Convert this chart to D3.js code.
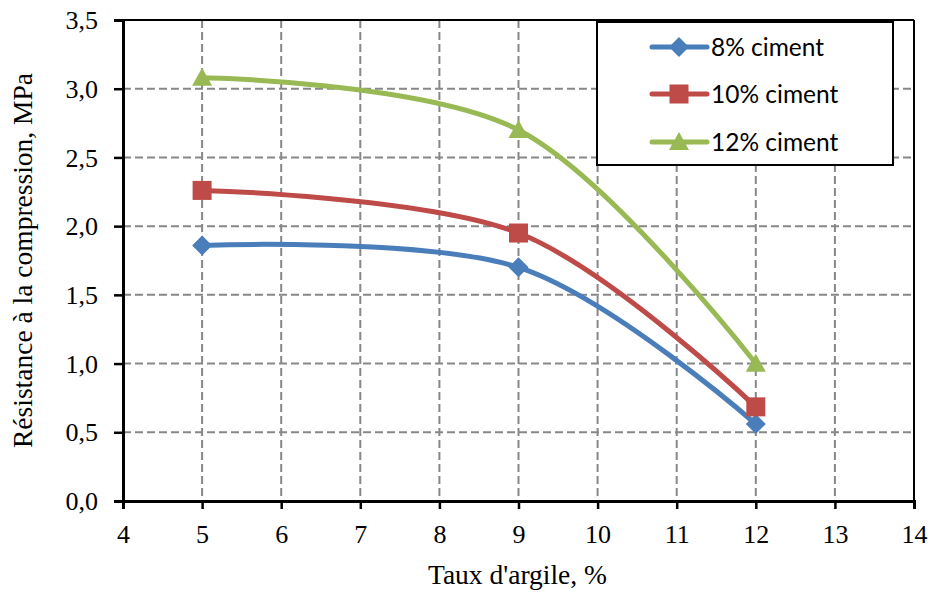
<!DOCTYPE html>
<html><head><meta charset="utf-8">
<script src="https://cdn.jsdelivr.net/npm/d3@7"></script>
<style>body{margin:0;background:#fff}</style>
</head><body>
<svg id="chart" width="936" height="592"></svg>
<script>
const xValues = [5, 9, 12];
const series8 = [1.86, 1.70, 0.56];
const series10 = [2.26, 1.95, 0.685];
const series12 = [3.08, 2.70, 1.00];
const seriesNames = ["8% ciment", "10% ciment", "12% ciment"];
const seriesColors = ["#4A7EBB", "#BE4B48", "#98B954"];
const seriesMarkers = ["diamond", "square", "triangle"];
const xTicks = [4,5,6,7,8,9,10,11,12,13,14];
const yTicks = [0,0.5,1,1.5,2,2.5,3,3.5];
const xTitle = "Taux d'argile, %";
const yTitle = "Résistance à la compression, MPa";

const svg = d3.select("#chart");
const L = 123, R = 914, T = 20, B = 501;
const x = d3.scaleLinear().domain([4,14]).range([L,R]);
const y = d3.scaleLinear().domain([0,3.5]).range([B,T]);
const serif = "'Liberation Serif', serif";
const sans = "Lato, 'Noto Sans', sans-serif";
const fmt = d => d3.format(".1f")(d).replace(".", ",");

// grid
const grid = svg.append("g").attr("stroke","#878787").attr("stroke-width",2).attr("stroke-dasharray","8,4");
xTicks.filter(t => t>4 && t<14).forEach(t => grid.append("line").attr("x1",x(t)).attr("x2",x(t)).attr("y1",T).attr("y2",B));
yTicks.filter(t => t>0 && t<3.5).forEach(t => grid.append("line").attr("x1",L).attr("x2",R).attr("y1",y(t)).attr("y2",y(t)));

// border top/right
svg.append("line").attr("x1",L).attr("x2",R).attr("y1",T).attr("y2",T).attr("stroke","#000").attr("stroke-width",2);
svg.append("line").attr("x1",R).attr("x2",R).attr("y1",T).attr("y2",B).attr("stroke","#000").attr("stroke-width",2);

// axes
const xAxis = svg.append("g").attr("transform",`translate(0,${B})`)
  .call(d3.axisBottom(x).tickValues(xTicks).tickSize(8).tickPadding(18).tickFormat(d3.format("d")));
const yAxis = svg.append("g").attr("transform",`translate(${L},0)`)
  .call(d3.axisLeft(y).tickValues(yTicks).tickSize(9).tickPadding(16).tickFormat(fmt));
[xAxis, yAxis].forEach(a => {
  a.select(".domain").attr("stroke","#000").attr("stroke-width",3);
  a.selectAll(".tick line").attr("stroke","#000").attr("stroke-width",2.5);
  a.selectAll("text").attr("fill","#000").style("font-family",serif).style("font-size","26px");
});
xAxis.selectAll("text").attr("y",42).attr("dy","0");
yAxis.selectAll("text").attr("dy","0.33em");

// titles
svg.append("text").attr("x",(L+R)/2 - 1).attr("y",584).attr("text-anchor","middle")
  .style("font-family",serif).style("font-size","27.5px").text(xTitle);
svg.append("text").attr("transform",`translate(32,${(T+B)/2}) rotate(-90)`).attr("text-anchor","middle")
  .style("font-family",serif).style("font-size","27.5px").text(yTitle);

// series
const allSeries = [series8, series10, series12];
const line = d3.line().x(d => x(d[0])).y(d => y(d[1])).curve(d3.curveCardinal.tension(0));
function marker(g, type, cx, cy, color) {
  if (type === "diamond") {
    const s = 10;
    g.append("path").attr("d",`M${cx},${cy-s}L${cx+s},${cy}L${cx},${cy+s}L${cx-s},${cy}Z`).attr("fill",color);
  } else if (type === "square") {
    const s = 9.5;
    g.append("rect").attr("x",cx-s).attr("y",cy-s).attr("width",2*s).attr("height",2*s).attr("fill",color);
  } else {
    const w = 10, h = 18;
    g.append("path").attr("d",`M${cx},${cy-h*0.55}L${cx+w},${cy+h*0.45}L${cx-w},${cy+h*0.45}Z`).attr("fill",color);
  }
}
allSeries.forEach((vals, i) => {
  const pts = xValues.map((xv, j) => [xv, vals[j]]);
  const g = svg.append("g");
  g.append("path").attr("d", line(pts)).attr("fill","none").attr("stroke",seriesColors[i])
    .attr("stroke-width",5).attr("stroke-linejoin","round").attr("stroke-linecap","round");
  pts.forEach(p => marker(g, seriesMarkers[i], x(p[0]), y(p[1]), seriesColors[i]));
});

// legend
const lg = svg.append("g");
lg.append("rect").attr("x",597).attr("y",22).attr("width",296).attr("height",143)
  .attr("fill","#fff").attr("stroke","#000").attr("stroke-width",2);
const rowY = [47, 94, 142];
seriesNames.forEach((n, i) => {
  lg.append("line").attr("x1",652).attr("x2",707).attr("y1",rowY[i]).attr("y2",rowY[i])
    .attr("stroke",seriesColors[i]).attr("stroke-width",5).attr("stroke-linecap","round");
  marker(lg, seriesMarkers[i], 679, rowY[i], seriesColors[i]);
  lg.append("text").attr("x",711).attr("y",rowY[i]).attr("dy","0.35em")
    .style("font-family",sans).style("font-size","24.5px").attr("fill","#000").text(n);
});
</script>
</body></html>
